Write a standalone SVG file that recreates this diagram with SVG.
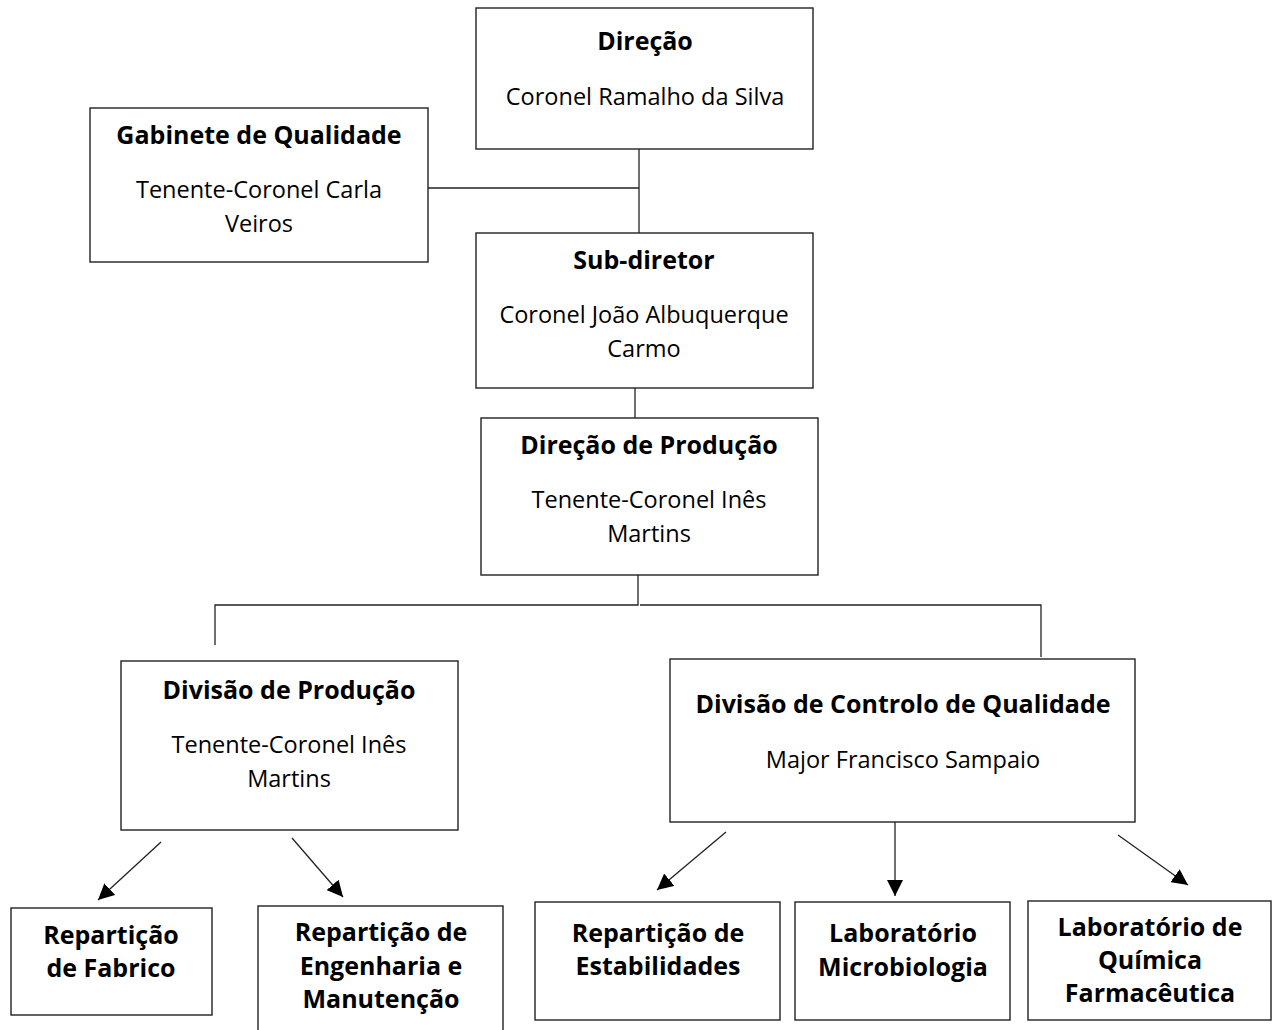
<svg xmlns="http://www.w3.org/2000/svg" width="1280" height="1030" viewBox="0 0 1280 1030">
<defs>
<marker id="ah" viewBox="0 0 10 10" refX="10" refY="5" markerWidth="16" markerHeight="16" markerUnits="userSpaceOnUse" orient="auto">
<path d="M0,0 L10,5 L0,10 z" fill="#000"/>
</marker>
<style>
.box{fill:#fff;stroke:#222;stroke-width:1.4}
.t{font-family:"Open Sans",Lato,sans-serif;font-size:23.5px;fill:#000;text-anchor:middle}
.b{font-weight:bold;font-size:25px}
.c{fill:none;stroke:#222;stroke-width:1.3}
</style>
</defs>
<rect width="1280" height="1030" fill="#fff"/>
<g id="connectors">
<path class="c" d="M428,188 H639 M639,149 V233"/>
<path class="c" d="M635,388 V418"/>
<path class="c" d="M638,575 V605 H215 V645 M640,605 H1041 V657"/>
<path class="c" marker-end="url(#ah)" d="M161,842 L98,900"/>
<path class="c" marker-end="url(#ah)" d="M292,838 L343,897"/>
<path class="c" marker-end="url(#ah)" d="M726,832 L657,890"/>
<path class="c" marker-end="url(#ah)" d="M895,822 V896"/>
<path class="c" marker-end="url(#ah)" d="M1118,835 L1188,885"/>
</g>
<g id="direcao">
<rect class="box" x="476" y="8" width="337" height="141"/>
<text class="t b" x="645" y="50">Direção</text>
<text class="t" x="645" y="105">Coronel Ramalho da Silva</text>
</g>
<g id="gabinete">
<rect class="box" x="90" y="108" width="338" height="154"/>
<text class="t b" x="259" y="144">Gabinete de Qualidade</text>
<text class="t" x="259" y="198">Tenente-Coronel Carla</text>
<text class="t" x="259" y="232">Veiros</text>
</g>
<g id="subdiretor">
<rect class="box" x="476" y="233" width="337" height="155"/>
<text class="t b" x="644" y="269">Sub-diretor</text>
<text class="t" x="644" y="323">Coronel João Albuquerque</text>
<text class="t" x="644" y="357">Carmo</text>
</g>
<g id="direcao-producao">
<rect class="box" x="481" y="418" width="337" height="157"/>
<text class="t b" x="649" y="454">Direção de Produção</text>
<text class="t" x="649" y="508">Tenente-Coronel Inês</text>
<text class="t" x="649" y="542">Martins</text>
</g>
<g id="divisao-producao">
<rect class="box" x="121" y="661" width="337" height="169"/>
<text class="t b" x="289" y="699">Divisão de Produção</text>
<text class="t" x="289" y="753">Tenente-Coronel Inês</text>
<text class="t" x="289" y="787">Martins</text>
</g>
<g id="divisao-controlo">
<rect class="box" x="670" y="659" width="465" height="163"/>
<text class="t b" x="903" y="713">Divisão de Controlo de Qualidade</text>
<text class="t" x="903" y="768">Major Francisco Sampaio</text>
</g>
<g id="rep-fabrico">
<rect class="box" x="11" y="908" width="201" height="107"/>
<text class="t b" x="111" y="944">Repartição</text>
<text class="t b" x="111" y="977">de Fabrico</text>
</g>
<g id="rep-engenharia">
<rect class="box" x="258" y="906" width="245" height="130"/>
<text class="t b" x="381" y="941">Repartição de</text>
<text class="t b" x="381" y="975">Engenharia e</text>
<text class="t b" x="381" y="1008">Manutenção</text>
</g>
<g id="rep-estabilidades">
<rect class="box" x="535" y="902" width="245" height="118"/>
<text class="t b" x="658" y="942">Repartição de</text>
<text class="t b" x="658" y="975">Estabilidades</text>
</g>
<g id="lab-micro">
<rect class="box" x="795" y="902" width="215" height="118"/>
<text class="t b" x="903" y="942">Laboratório</text>
<text class="t b" x="903" y="976">Microbiologia</text>
</g>
<g id="lab-quimica">
<rect class="box" x="1028" y="901" width="243" height="119"/>
<text class="t b" x="1150" y="936">Laboratório de</text>
<text class="t b" x="1150" y="969">Química</text>
<text class="t b" x="1150" y="1002">Farmacêutica</text>
</g>
</svg>
